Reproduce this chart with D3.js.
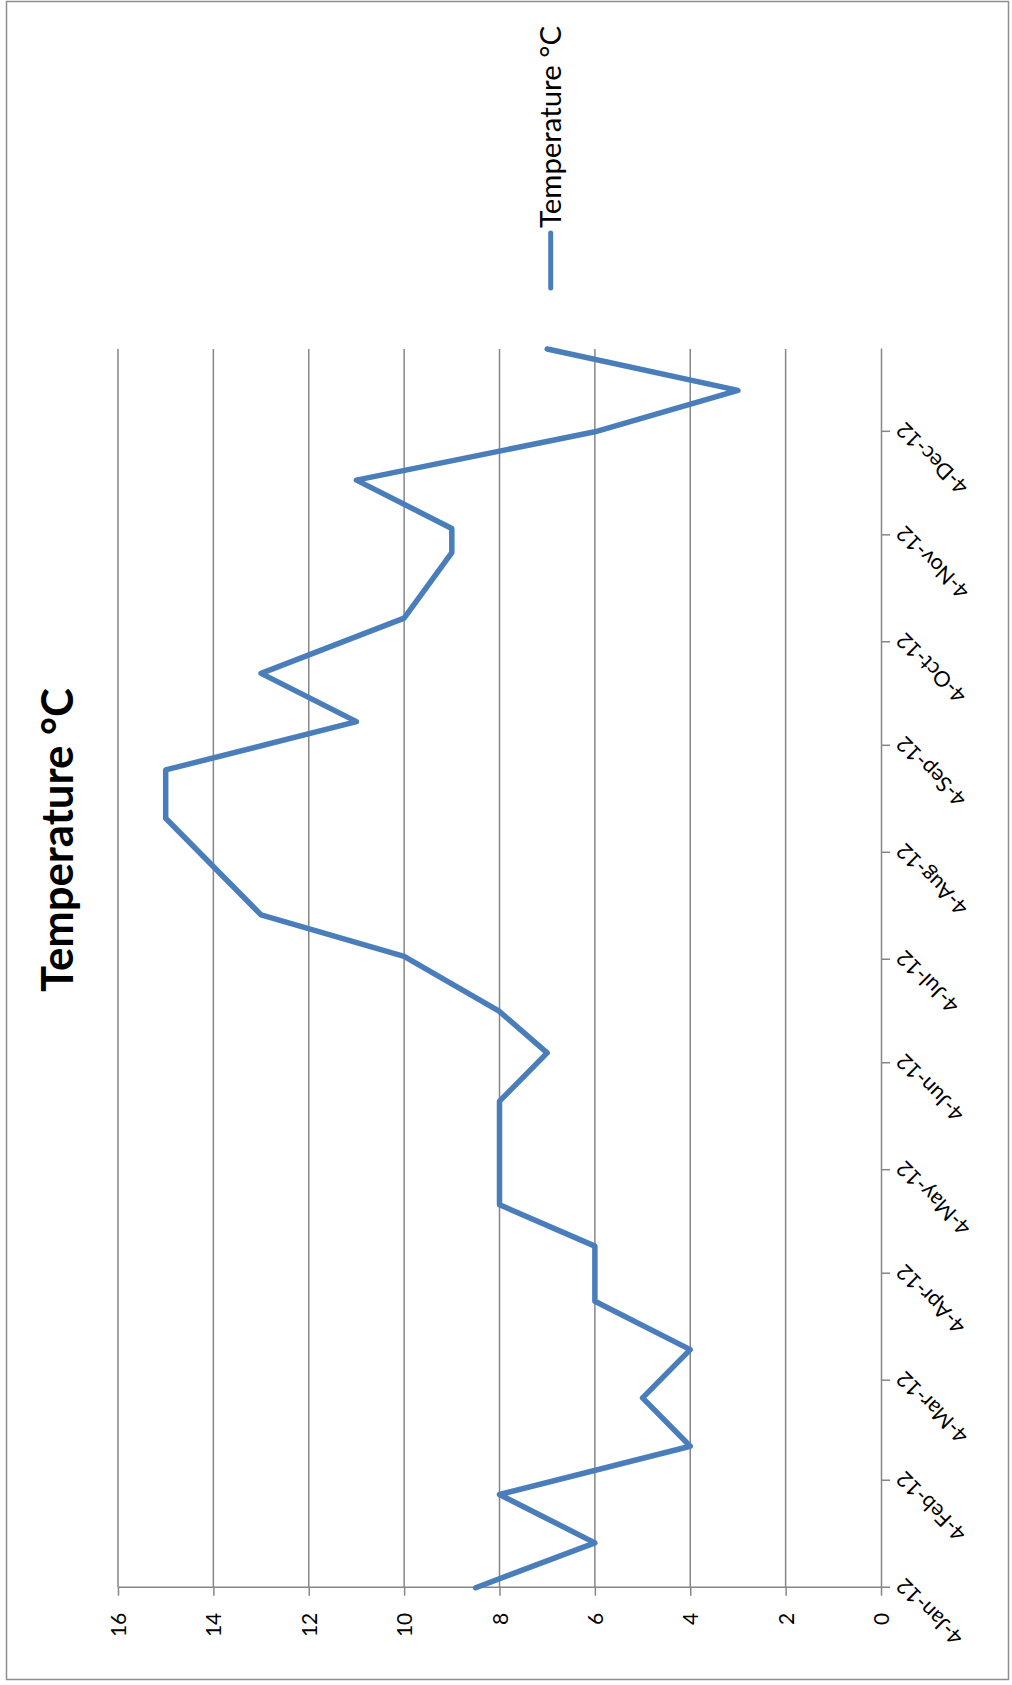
<!DOCTYPE html>
<html>
<head>
<meta charset="utf-8">
<script src="https://cdn.jsdelivr.net/npm/d3@7"></script>
<style>
  html, body { margin: 0; padding: 0; background: #fff; }
  svg { display: block; }
</style>
</head>
<body>
<script>
// ---- Data ----
const dates = ["2012-01-04","2012-01-17","2012-01-31","2012-02-14","2012-02-28","2012-03-13",
  "2012-03-27","2012-04-12","2012-04-24","2012-05-24","2012-06-07","2012-06-19","2012-07-05",
  "2012-07-17","2012-08-14","2012-08-28","2012-09-11","2012-09-25","2012-10-11","2012-10-30",
  "2012-11-06","2012-11-20","2012-12-04","2012-12-16","2012-12-28"];
const temps = [8.5, 6, 8, 4, 5, 4, 6, 6, 8, 8, 7, 8, 10, 13, 15, 15, 11, 13, 10, 9, 9, 11, 6, 3, 7];
const tickDates = ["2012-01-04","2012-02-04","2012-03-04","2012-04-04","2012-05-04","2012-06-04",
  "2012-07-04","2012-08-04","2012-09-04","2012-10-04","2012-11-04","2012-12-04"];
const valueTicks = [0, 2, 4, 6, 8, 10, 12, 14, 16];
const seriesName = "Temperature °C";
const chartTitle = "Temperature °C";

// ---- Layout ----
const W = 1012, H = 1685;
const FONT = "Lato, 'Open Sans', sans-serif";
const GRID = "#868686";
const BLUE = "#4a7ebb";

const parse = d3.utcParse("%Y-%m-%d");
const data = dates.map((d, i) => ({ date: parse(d), t: temps[i] }));
const ticks = tickDates.map(parse);

const svg = d3.select("body").append("svg").attr("width", W).attr("height", H);
svg.append("rect").attr("width", W).attr("height", H).attr("fill", "#fff");
svg.append("rect").attr("x", 6.5).attr("y", 1.5).attr("width", 1002).attr("height", 1678)
  .attr("fill", "none").attr("stroke", "#8e8e8e").attr("stroke-width", 1.5);

// Whole chart is rotated 90deg counter-clockwise
const g = svg.append("g").attr("transform", `translate(0,${H}) rotate(-90)`);

const x0 = 97.3, x1 = 1336, y0 = 881, y1 = 118;
const x = d3.scaleUtc().domain(d3.extent(data, d => d.date)).range([x0, x1]);
const y = d3.scaleLinear().domain([0, 16]).range([y0, y1]);

// gridlines
g.append("g").selectAll("line").data(valueTicks.filter(v => v > 0)).join("line")
  .attr("x1", x0).attr("x2", x1)
  .attr("y1", d => y(d)).attr("y2", d => y(d))
  .attr("stroke", GRID).attr("stroke-width", 1.5);

// value axis
const ya = g.append("g").attr("transform", `translate(${x0},0)`)
  .call(d3.axisLeft(y).tickValues(valueTicks).tickSize(8).tickSizeOuter(0).tickPadding(17));
ya.select(".domain").attr("stroke", GRID).attr("stroke-width", 1.5);
ya.selectAll(".tick line").attr("stroke", GRID).attr("stroke-width", 1.5);
ya.selectAll(".tick text").attr("font-family", FONT).attr("font-size", 21).attr("fill", "#000")
  .attr("dy", "0.36em");

// date axis
const fmt = d3.utcFormat("%-d-%b-%y");
const xa = g.append("g").attr("transform", `translate(0,${y0})`)
  .call(d3.axisBottom(x).tickValues(ticks).tickFormat(fmt).tickSize(9).tickSizeOuter(0));
xa.select(".domain").attr("stroke", GRID).attr("stroke-width", 1.5);
xa.selectAll(".tick line").attr("stroke", GRID).attr("stroke-width", 1.5);
xa.selectAll(".tick text").attr("font-family", FONT).attr("font-size", 21.5).attr("fill", "#000")
  .attr("x", 0).attr("y", 0).attr("dy", "0.35em")
  .attr("text-anchor", "end")
  .attr("transform", "translate(5,19) rotate(-45)");

// line
const line = d3.line().x(d => x(d.date)).y(d => y(d.t));
g.append("path").datum(data).attr("d", line)
  .attr("fill", "none").attr("stroke", BLUE).attr("stroke-width", 5.5)
  .attr("stroke-linejoin", "round").attr("stroke-linecap", "round");

function fit(sel, target) {
  const len = sel.node().getComputedTextLength();
  const fs = parseFloat(sel.attr("font-size"));
  sel.attr("font-size", (fs * target / len).toFixed(2));
}

// title
const title = g.append("text").attr("x", 845).attr("y", 73)
  .attr("text-anchor", "middle").attr("font-family", FONT).attr("font-weight", "bold")
  .attr("font-size", 40).attr("fill", "#000").text(chartTitle);
fit(title, 304);

// legend
g.append("line").attr("x1", 1397).attr("x2", 1452).attr("y1", 550.7).attr("y2", 550.7)
  .attr("stroke", BLUE).attr("stroke-width", 5).attr("stroke-linecap", "round");
const leg = g.append("text").attr("x", 1457).attr("y", 550.7).attr("dy", "0.35em")
  .attr("font-family", FONT).attr("font-size", 28).attr("fill", "#000").text(seriesName);
fit(leg, 202);
</script>
</body>
</html>
